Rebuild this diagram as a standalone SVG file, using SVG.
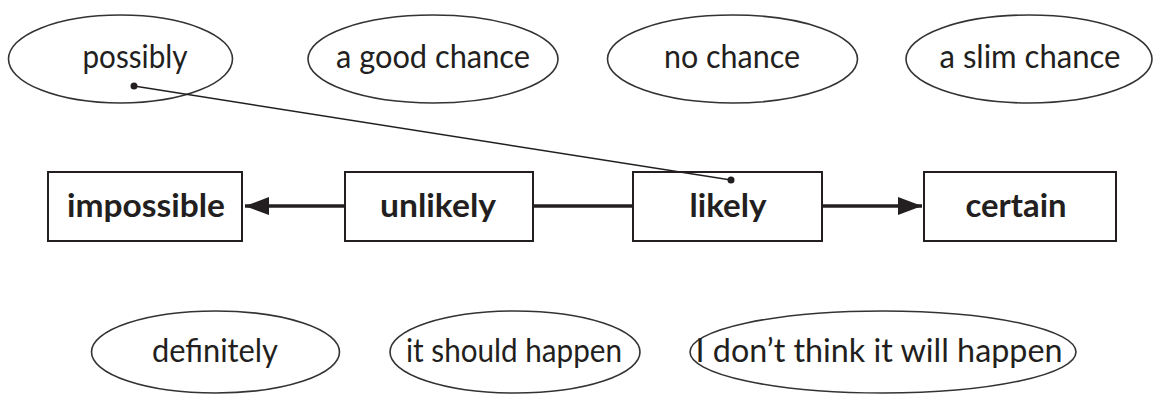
<svg xmlns="http://www.w3.org/2000/svg" width="1156" height="394" viewBox="0 0 1156 394">
<defs>
<style>
.ell{fill:#fff;stroke:#333;stroke-width:1.6}
.box{fill:#fff;stroke:#231f20;stroke-width:2}
.t{font-family:Lato,"Open Sans",sans-serif;font-size:32px;fill:#231f20;text-anchor:middle}
.b{font-family:Lato,"Open Sans",sans-serif;font-size:32px;font-weight:bold;fill:#231f20;text-anchor:middle}
.thick{stroke:#231f20;stroke-width:3.5;fill:none}
.thin{stroke:#231f20;stroke-width:1.5;fill:none}
</style>
<marker id="arr" viewBox="0 0 24 18" refX="24" refY="9" markerWidth="24" markerHeight="18" markerUnits="userSpaceOnUse" orient="auto">
<path d="M0,0 L24,9 L0,18 Z" fill="#231f20"/>
</marker>
</defs>
<g id="n-possibly"><ellipse class="ell" cx="120.5" cy="59" rx="112" ry="44"/><text class="t" x="135" y="68" textLength="105" lengthAdjust="spacingAndGlyphs">possibly</text></g>
<g id="n-goodchance"><ellipse class="ell" cx="433" cy="59" rx="125" ry="44"/><text class="t" x="433" y="68" textLength="194" lengthAdjust="spacingAndGlyphs">a good chance</text></g>
<g id="n-nochance"><ellipse class="ell" cx="732.5" cy="59" rx="125" ry="44"/><text class="t" x="732" y="68" textLength="136" lengthAdjust="spacingAndGlyphs">no chance</text></g>
<g id="n-slimchance"><ellipse class="ell" cx="1029" cy="59" rx="123" ry="44"/><text class="t" x="1030" y="68" textLength="181" lengthAdjust="spacingAndGlyphs">a slim chance</text></g>
<g id="n-impossible"><rect class="box" x="48" y="172" width="194" height="69"/><text class="b" x="146" y="217" textLength="158" lengthAdjust="spacingAndGlyphs">impossible</text></g>
<g id="n-unlikely"><rect class="box" x="345" y="172" width="188" height="69"/><text class="b" x="438" y="217" textLength="116" lengthAdjust="spacingAndGlyphs">unlikely</text></g>
<g id="n-likely"><rect class="box" x="633" y="172" width="189" height="69"/><text class="b" x="728" y="217" textLength="77" lengthAdjust="spacingAndGlyphs">likely</text></g>
<g id="n-certain"><rect class="box" x="924" y="172" width="192" height="69"/><text class="b" x="1016" y="217" textLength="101" lengthAdjust="spacingAndGlyphs">certain</text></g>
<g id="n-definitely"><ellipse class="ell" cx="215.5" cy="352" rx="124" ry="41"/><text class="t" x="215" y="362" textLength="126" lengthAdjust="spacingAndGlyphs">definitely</text></g>
<g id="n-shouldhappen"><ellipse class="ell" cx="515" cy="352" rx="125" ry="41"/><text class="t" x="514" y="362" textLength="216" lengthAdjust="spacingAndGlyphs">it should happen</text></g>
<g id="n-dontthink"><ellipse class="ell" cx="883" cy="352" rx="193" ry="41"/><text class="t" x="879" y="362" textLength="367" lengthAdjust="spacingAndGlyphs">I don’t think it will happen</text></g>
<g id="connectors">
<line class="thick" x1="345" y1="206" x2="245" y2="206" marker-end="url(#arr)"/>
<line class="thick" x1="533" y1="206" x2="633" y2="206"/>
<line class="thick" x1="822" y1="206" x2="922" y2="206" marker-end="url(#arr)"/>
<line class="thin" x1="134" y1="86" x2="731" y2="180"/>
<circle cx="134" cy="86" r="3.5" fill="#231f20"/>
<circle cx="731" cy="180" r="3.5" fill="#231f20"/>
</g>
</svg>
